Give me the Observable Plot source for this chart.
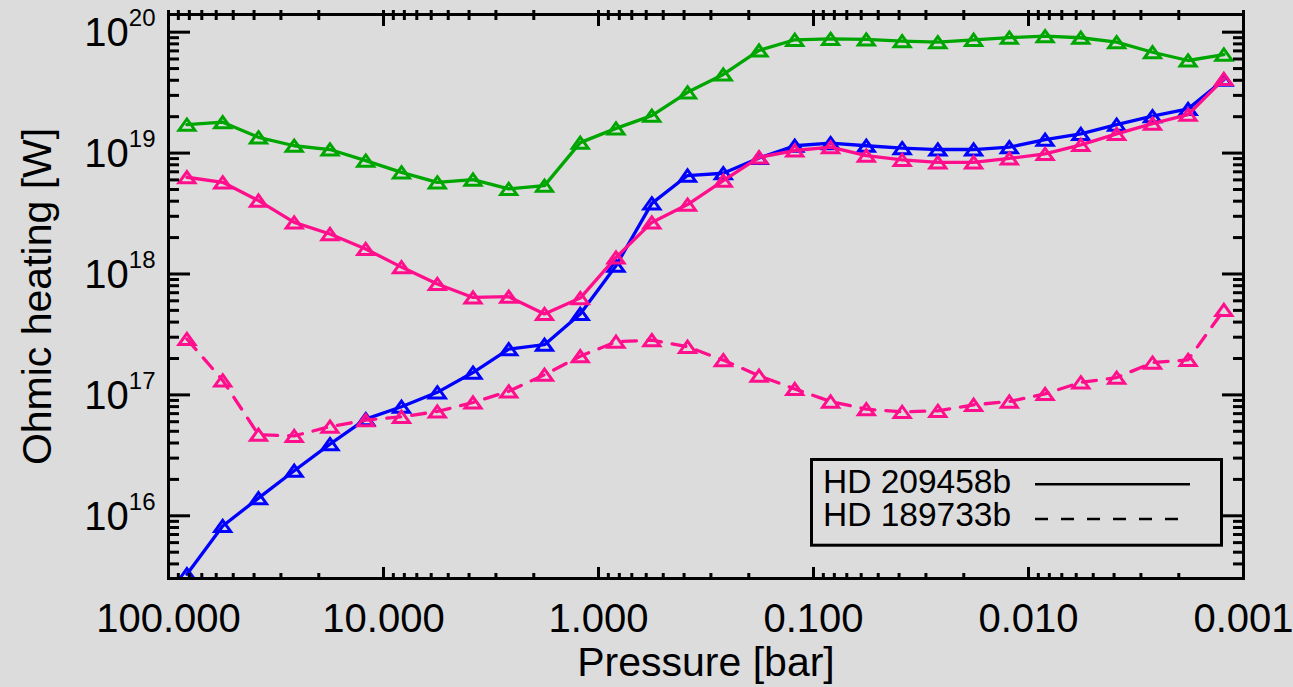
<!DOCTYPE html>
<html><head><meta charset="utf-8">
<script src="https://cdn.jsdelivr.net/npm/d3@7"></script>
<script src="https://cdn.jsdelivr.net/npm/@observablehq/plot@0.6"></script>
<style>
html,body{margin:0;padding:0;background:#dcdcdd;overflow:hidden}
#wrap{position:relative;width:1293px;height:687px}
#legend{position:absolute;left:810px;top:458px}
</style></head><body><div id="wrap"></div>
<script>
// Pressure levels [bar]
const pressure = [82.1, 55.97, 38.15, 26.02, 17.74, 12.10, 8.25, 5.62, 3.835, 2.615, 1.783, 1.216, 0.829, 0.565, 0.3854, 0.2628, 0.1792, 0.1222, 0.0833, 0.0568, 0.0387, 0.0264, 0.0180, 0.01228, 0.00837, 0.00571, 0.00389, 0.00265, 0.00181, 0.001234];
// Ohmic heating [W]
const greenSolid = [1.72e19, 1.80e19, 1.35e19, 1.15e19, 1.07e19, 8.67e18, 6.93e18, 5.73e18, 6.04e18, 5.06e18, 5.38e18, 1.22e19, 1.60e19, 2.04e19, 3.18e19, 4.47e19, 7.06e19, 8.65e19, 8.81e19, 8.71e19, 8.43e19, 8.26e19, 8.65e19, 9.02e19, 9.27e19, 8.99e19, 8.26e19, 6.82e19, 5.83e19, 6.53e19];
const blueSolid = [3.29e15, 8.24e15, 1.40e16, 2.36e16, 3.92e16, 6.31e16, 7.98e16, 1.05e17, 1.53e17, 2.39e17, 2.60e17, 4.67e17, 1.17e18, 3.84e18, 6.52e18, 6.81e18, 9.12e18, 1.15e19, 1.21e19, 1.15e19, 1.10e19, 1.07e19, 1.07e19, 1.12e19, 1.29e19, 1.44e19, 1.72e19, 2.02e19, 2.32e19, 4.04e19];
const pinkSolid = [6.31e18, 5.73e18, 4.05e18, 2.67e18, 2.14e18, 1.61e18, 1.14e18, 8.26e17, 6.40e17, 6.49e17, 4.67e17, 6.32e17, 1.37e18, 2.67e18, 3.75e18, 5.92e18, 9.23e18, 1.05e19, 1.12e19, 9.53e18, 8.79e18, 8.39e18, 8.39e18, 9.04e18, 9.84e18, 1.17e19, 1.44e19, 1.75e19, 2.08e19, 4.11e19];
const pinkDashed = [2.90e17, 1.32e17, 4.68e16, 4.58e16, 5.47e16, 6.18e16, 6.59e16, 7.29e16, 8.65e16, 1.07e17, 1.47e17, 2.09e17, 2.75e17, 2.84e17, 2.50e17, 1.94e17, 1.44e17, 1.12e17, 8.81e16, 7.62e16, 7.24e16, 7.38e16, 8.28e16, 8.81e16, 1.02e17, 1.27e17, 1.39e17, 1.85e17, 1.95e17, 5.04e17];

const xMajorTicks = [100, 10, 1, 0.1, 0.01, 0.001];
const xTickLabels = ["100.000", "10.000", "1.000", "0.100", "0.010", "0.001"];
const yMajorTicks = [1e16, 1e17, 1e18, 1e19, 1e20];
const legendLabels = ["HD 209458b", "HD 189733b"];

const xDomain = [100, 0.001];
const yDomain = [3.03e15, 1.4e20];

const xMinor = [];
for (const d of [0.001, 0.01, 0.1, 1, 10]) for (let m = 2; m <= 9; m++) xMinor.push(d * m);
const yMinor = [];
for (const d of [1e15, 1e16, 1e17, 1e18, 1e19, 1e20]) for (let m = 2; m <= 9; m++) {
  const v = d * m; if (v >= yDomain[0] && v <= yDomain[1]) yMinor.push(v);
}

const series = [
  {values: greenSolid, color: "#00a600", dash: null},
  {values: blueSolid, color: "#0000ff", dash: null},
  {values: pinkSolid, color: "#ff0f8c", dash: null},
  {values: pinkDashed, color: "#ff0f8c", dash: "14,11"}
];

const tri = {draw(ctx, size) {
  const k = Math.sqrt(size / Math.PI);
  ctx.moveTo(0, -0.7 * k); ctx.lineTo(k, 0.7 * k); ctx.lineTo(-k, 0.7 * k); ctx.closePath();
}};

const marks = [];
for (const s of series) {
  const rows = s.values.map((v, i) => ({p: pressure[i], w: v}));
  marks.push(Plot.line(rows, {x: "p", y: "w", stroke: s.color, strokeWidth: 3.3, strokeDasharray: s.dash, clip: true}));
  marks.push(Plot.dot(rows, {x: "p", y: "w", stroke: s.color, strokeWidth: 3, fill: "none", symbol: tri, r: 8, clip: true}));
}

const font = "'Liberation Sans', Arial, sans-serif";
const tw = 3;
const plot = Plot.plot({
  width: 1293, height: 687,
  marginLeft: 168, marginRight: 50, marginTop: 14, marginBottom: 109,
  style: {fontFamily: font, background: "#dcdcdd", color: "black"},
  x: {type: "log", domain: xDomain},
  y: {type: "log", domain: yDomain},
  marks: [
    ...marks,
    Plot.frame({stroke: "black", strokeWidth: 3}),
    // bottom ticks (inward)
    Plot.axisX(xMajorTicks, {anchor: "bottom", tickSize: -11, strokeWidth: tw, fill: "none"}),
    Plot.axisX(xMinor, {anchor: "bottom", tickSize: -5, strokeWidth: tw, fill: "none"}),
    // top ticks
    Plot.axisX(xMajorTicks, {anchor: "top", tickSize: -11, strokeWidth: tw, fill: "none"}),
    Plot.axisX(xMinor, {anchor: "top", tickSize: -5, strokeWidth: tw, fill: "none"}),
    Plot.axisX([...xMajorTicks, ...xMinor], {anchor: "top", tickSize: 5, strokeWidth: tw, fill: "none"}),
    // left / right ticks
    Plot.axisY(yMajorTicks, {anchor: "left", tickSize: -22, strokeWidth: tw, fill: "none"}),
    Plot.axisY(yMinor, {anchor: "left", tickSize: -11, strokeWidth: tw, fill: "none"}),
    Plot.axisY(yMajorTicks, {anchor: "right", tickSize: -22, strokeWidth: tw, fill: "none"}),
    Plot.axisY(yMinor, {anchor: "right", tickSize: -11, strokeWidth: tw, fill: "none"}),
    // labels
    Plot.axisX(xMajorTicks, {anchor: "bottom", tickSize: 0, tickPadding: 25, fontSize: 40, label: null,
      tickFormat: d => xTickLabels[xMajorTicks.indexOf(d)]}),
    Plot.axisY(yMajorTicks, {anchor: "left", tickSize: 0, tickPadding: 13, fontSize: 40, label: null, dy: 1,
      tickFormat: d => "10^" + Math.round(Math.log10(d))}),
    Plot.text(["Pressure [bar]"], {frameAnchor: "bottom", dy: 84, fontSize: 41, fill: "black", lineAnchor: "middle", textAnchor: "middle"}),
    Plot.text(["Ohmic heating [W]"], {frameAnchor: "left", dx: -131, rotate: -90, fontSize: 41, fill: "black", lineAnchor: "middle", textAnchor: "middle"})
  ]
});

// superscript exponents on the y tick labels
plot.querySelectorAll('g[aria-label="y-axis tick label"] text').forEach(t => {
  const [b, e] = t.textContent.split("^");
  if (e === undefined) return;
  t.textContent = b;
  const ts = document.createElementNS("http://www.w3.org/2000/svg", "tspan");
  ts.setAttribute("dy", "-20");
  ts.setAttribute("font-size", "24");
  ts.textContent = e;
  t.appendChild(ts);
});

const wrap = document.getElementById("wrap");
wrap.appendChild(plot);

// legend
const lg = d3.select(wrap).append("svg").attr("id", "legend").attr("width", 416).attr("height", 92);
lg.append("rect").attr("x", 1.5).attr("y", 1.5).attr("width", 410).attr("height", 85.7)
  .attr("fill", "none").attr("stroke", "black").attr("stroke-width", 3);
const rowsY = [34.7, 68];
const lineY = [26.3, 61];
legendLabels.forEach((lab, i) => {
  lg.append("text").attr("x", 13).attr("y", rowsY[i]).attr("font-family", font).attr("font-size", 33.5).text(lab);
  lg.append("line").attr("x1", 225).attr("x2", i === 0 ? 380 : 372).attr("y1", lineY[i]).attr("y2", lineY[i])
    .attr("stroke", "black").attr("stroke-width", 2.6).attr("stroke-dasharray", i === 0 ? null : "13,13");
});
</script></body></html>
